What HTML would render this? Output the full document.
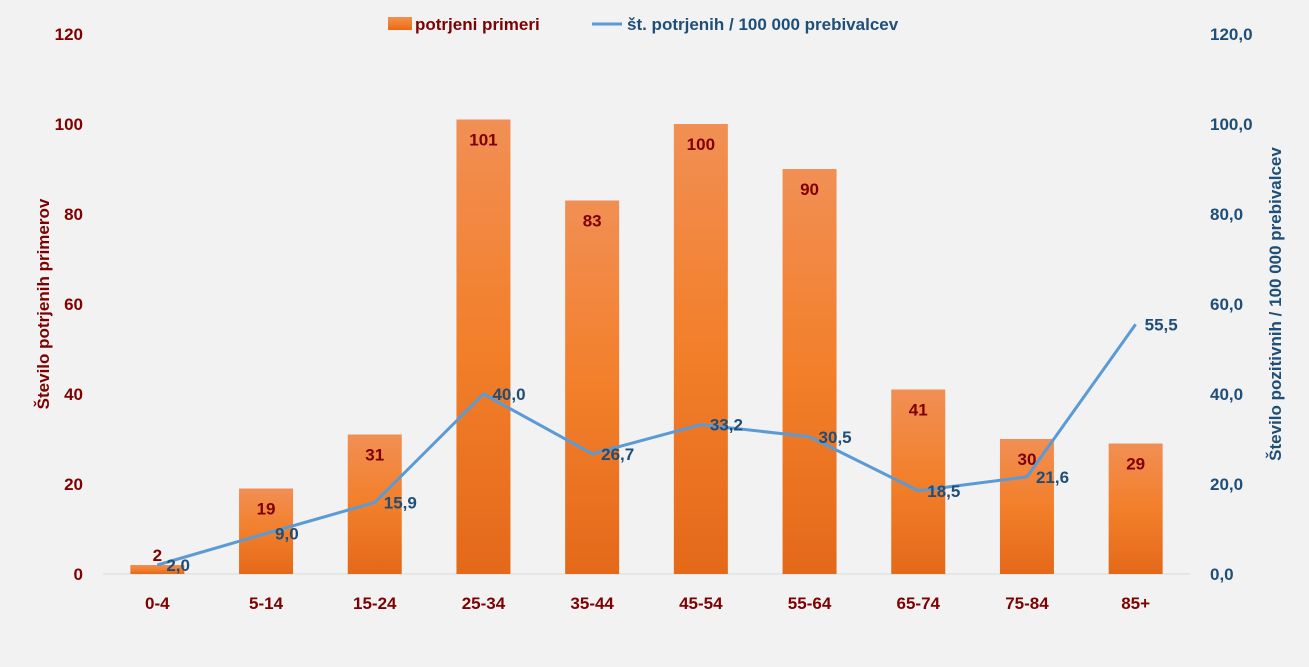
<!DOCTYPE html>
<html><head><meta charset="utf-8"><style>
body{margin:0;background:#f2f2f2;}
svg{display:block;font-family:"Liberation Sans",sans-serif;font-weight:bold;}
</style></head><body>
<svg id="chart" width="1309" height="667" viewBox="0 0 1309 667">
<defs>
<linearGradient id="bg" x1="0" y1="0" x2="0" y2="1">
<stop offset="0" stop-color="#f18f54"/><stop offset="0.5" stop-color="#f27f2a"/><stop offset="1" stop-color="#e4691a"/>
</linearGradient>
</defs>
<rect width="1309" height="667" fill="#f2f2f2"/>
<g id="legend">
<rect x="388" y="17" width="24" height="13" fill="url(#bg)"/>
<text x="415" y="30" font-size="17" fill="#7f0000">potrjeni primeri</text>
<line x1="592" y1="24" x2="622" y2="24" stroke="#5b9bd5" stroke-width="3"/>
<text x="627" y="30" font-size="17" fill="#1f4e79">št. potrjenih / 100 000 prebivalcev</text>
</g>
<text transform="translate(49,304) rotate(-90)" text-anchor="middle" font-size="17" fill="#7f0000">Število potrjenih  primerov</text>
<text transform="translate(1281,304) rotate(-90)" text-anchor="middle" font-size="17" fill="#1f4e79">Število pozitivnih  / 100 000 prebivalcev</text>
<g id="plot"></g>
</svg>
<script>
const categories=["0-4","5-14","15-24","25-34","35-44","45-54","55-64","65-74","75-84","85+"];
const cases=[2,19,31,101,83,100,90,41,30,29];
const rates=[2.0,9.0,15.9,40.0,26.7,33.2,30.5,18.5,21.6,55.5];
const leftTicks=[0,20,40,60,80,100,120];
const rightTicks=[0,20,40,60,80,100,120];
const NS="http://www.w3.org/2000/svg";
const g=document.getElementById("plot");
const x0=103,x1=1190,y0=574,y1=34;
const step=(x1-x0)/categories.length;
const xc=i=>x0+step*(i+0.5);
const yL=v=>y0-(v/120)*(y0-y1);
const yR=v=>y0-(v/120)*(y0-y1);
function mk(t,a,txt){const e=document.createElementNS(NS,t);for(const k in a)e.setAttribute(k,a[k]);if(txt!==undefined)e.textContent=txt;g.appendChild(e);return e;}
const fmt=v=>v.toFixed(1).replace(".",",");
leftTicks.forEach(v=>{const t=mk("text",{x:83,y:yL(v)+6,"text-anchor":"end","font-size":17,fill:"#7f0000"},String(v));

});
rightTicks.forEach(v=>{const t=mk("text",{x:1210,y:yR(v)+6,"font-size":17,fill:"#1f4e79"},fmt(v));

});
const ax=mk("line",{x1:x0,y1:y0,x2:x1,y2:y0,stroke:"#d9d9d9","stroke-width":1});


const bw=54;
categories.forEach((c,i)=>{
const b=mk("rect",{x:xc(i)-bw/2,y:yL(cases[i]),width:bw,height:y0-yL(cases[i]),fill:"url(#bg)"});


const ly=cases[i]<10?yL(cases[i])-4:yL(cases[i])+26;
const l=mk("text",{x:xc(i),y:ly,"text-anchor":"middle","font-size":17,fill:"#7f0000"},String(cases[i]));


const xl=mk("text",{x:xc(i),y:609,"text-anchor":"middle","font-size":17,fill:"#7f0000"},c);


});
const pts=rates.map((v,i)=>xc(i)+","+yR(v)).join(" ");
const pl=mk("polyline",{points:pts,fill:"none",stroke:"#5b9bd5","stroke-width":3,"stroke-linejoin":"round"});


rates.forEach((v,i)=>{
const t=mk("text",{x:xc(i)+9,y:yR(v)+6,"font-size":17,fill:"#1f4e79"},fmt(v));


});
</script>
</body></html>
